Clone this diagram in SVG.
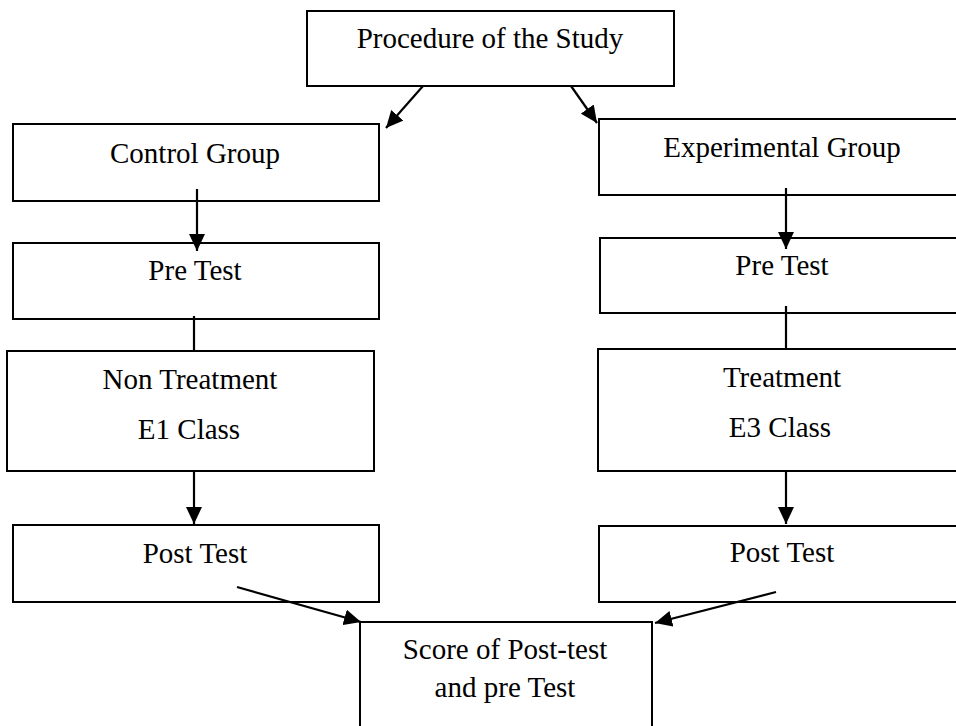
<svg xmlns="http://www.w3.org/2000/svg" width="956" height="726" viewBox="0 0 956 726">
<style>
.box{fill:#fff;stroke:#000;stroke-width:2}
.lbl{font-family:"Liberation Serif","Times New Roman",serif;font-size:29px;fill:#000;text-anchor:middle}
.edge{stroke:#000;stroke-width:2.2;fill:none}
</style>
<defs>
<marker id="arr" viewBox="0 0 17 16" refX="17" refY="8" markerWidth="17" markerHeight="16" orient="auto" markerUnits="userSpaceOnUse">
<path d="M0,0 L17,8 L0,16 z" fill="#000"/>
</marker>
</defs>
<rect width="956" height="726" fill="#fff"/>
<g id="n-procedure"><rect class="box" x="307" y="11" width="367" height="75"/><text class="lbl" x="490" y="48">Procedure of the Study</text></g>
<g id="n-control"><rect class="box" x="13" y="124" width="366" height="77"/><text class="lbl" x="195" y="163">Control Group</text></g>
<g id="n-experimental"><rect class="box" x="599" y="119" width="366" height="76"/><text class="lbl" x="782" y="157">Experimental Group</text></g>
<g id="n-pretest-l"><rect class="box" x="13" y="243" width="366" height="76"/><text class="lbl" x="195" y="280">Pre Test</text></g>
<g id="n-pretest-r"><rect class="box" x="600" y="238" width="366" height="75"/><text class="lbl" x="782" y="275">Pre Test</text></g>
<g id="n-nontreatment"><rect class="box" x="7" y="351" width="367" height="120"/><text class="lbl" x="190" y="389">Non Treatment</text><text class="lbl" x="189" y="439">E1 Class</text></g>
<g id="n-treatment"><rect class="box" x="598" y="349" width="367" height="122"/><text class="lbl" x="782" y="387">Treatment</text><text class="lbl" x="780" y="437">E3 Class</text></g>
<g id="n-posttest-l"><rect class="box" x="13" y="525" width="366" height="77"/><text class="lbl" x="195" y="563">Post Test</text></g>
<g id="n-posttest-r"><rect class="box" x="599" y="526" width="366" height="76"/><text class="lbl" x="782" y="562">Post Test</text></g>
<g id="n-score"><rect class="box" x="360" y="622" width="292" height="118"/><text class="lbl" x="505" y="659">Score of Post-test</text><text class="lbl" x="505" y="697">and pre Test</text></g>
<g id="connectors">
<line class="edge" x1="423" y1="86" x2="386" y2="128" marker-end="url(#arr)"/>
<line class="edge" x1="571" y1="86" x2="597" y2="123" marker-end="url(#arr)"/>
<line class="edge" x1="197" y1="189" x2="197" y2="251" marker-end="url(#arr)"/>
<line class="edge" x1="786" y1="188" x2="786" y2="249" marker-end="url(#arr)"/>
<line class="edge" x1="194" y1="316" x2="194" y2="351"/>
<line class="edge" x1="786" y1="306" x2="786" y2="349"/>
<line class="edge" x1="194" y1="471" x2="194" y2="524" marker-end="url(#arr)"/>
<line class="edge" x1="786" y1="471" x2="786" y2="524" marker-end="url(#arr)"/>
<line class="edge" x1="237" y1="587" x2="361" y2="622" marker-end="url(#arr)"/>
<line class="edge" x1="776" y1="592" x2="655" y2="623" marker-end="url(#arr)"/>
</g>
</svg>
